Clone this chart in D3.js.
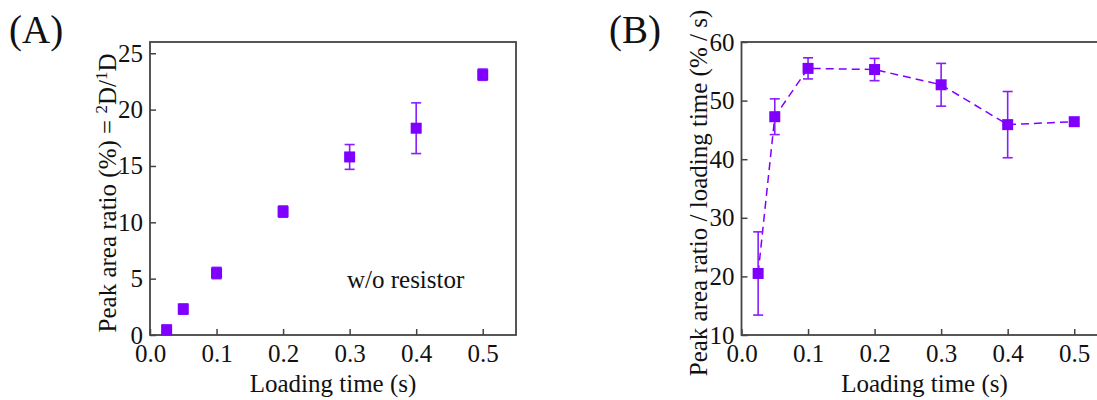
<!DOCTYPE html>
<html>
<head>
<meta charset="utf-8">
<script src="https://cdn.jsdelivr.net/npm/d3@7"></script>
<style>
  body { margin: 0; background: #fff; }
  text { font-family: "Liberation Serif", "Times New Roman", serif; fill: #111; }
</style>
</head>
<body>
<div id="chart"></div>
<script>
// loading time (s), shared by both panels
const loadingTime = [0.025, 0.05, 0.1, 0.2, 0.3, 0.4, 0.5];

// panel A: peak area ratio (%)
const ratioA = [0.44, 2.3, 5.5, 10.95, 15.8, 18.35, 23.1];
const ratioAErr = [0.45, 0.45, 0.5, 0.5, 1.1, 2.25, 0.5];

// panel B: peak area ratio / loading time (% / s)
const ratioB = [20.5, 47.25, 55.5, 55.3, 52.7, 45.9, 46.4];
const ratioBErr = [7.1, 3.05, 1.8, 1.9, 3.65, 5.65, 0.4];

const xTicks = [0, 0.1, 0.2, 0.3, 0.4, 0.5];
const yTicksA = [0, 5, 10, 15, 20, 25];
const yTicksB = [10, 20, 30, 40, 50, 60];

const width = 1097, height = 400;
const purple = "#8000ff";
const fontSize = 25;

const svg = d3.select("#chart").append("svg")
    .attr("width", width)
    .attr("height", height);

function drawPanel(o) {
    const g = svg.append("g");
    const x = d3.scaleLinear().domain([0, 0.55]).range([o.left, o.left + 366]);
    const y = d3.scaleLinear().domain(o.yDomain).range([335, 42]);

    // frame
    g.append("rect")
        .attr("x", x(0)).attr("y", y(o.yDomain[1]))
        .attr("width", x(0.55) - x(0)).attr("height", y(o.yDomain[0]) - y(o.yDomain[1]))
        .attr("fill", "none").attr("stroke", "#444").attr("stroke-width", 1.8);

    const xAxis = g.append("g")
        .attr("transform", `translate(0,${y(o.yDomain[0])})`)
        .call(d3.axisBottom(x).tickValues(xTicks).tickFormat(d3.format(".1f"))
            .tickSize(-6).tickSizeOuter(0).tickPadding(9));
    const yAxis = g.append("g")
        .attr("transform", `translate(${x(0)},0)`)
        .call(d3.axisLeft(y).tickValues(o.yTicks).tickSize(-6).tickSizeOuter(0).tickPadding(7));
    [xAxis, yAxis].forEach(a => {
        a.attr("font-family", null).attr("font-size", null);
        a.select(".domain").remove();
        a.selectAll(".tick line").attr("stroke", "#444").attr("stroke-width", 1.5);
        a.selectAll(".tick text").attr("font-size", fontSize).attr("fill", "#111");
    });

    const pts = loadingTime.map((t, i) => ({ t, v: o.values[i], e: o.errors[i] }));

    if (o.dashed) {
        g.append("path")
            .datum(pts)
            .attr("fill", "none")
            .attr("stroke", purple)
            .attr("stroke-width", 1.5)
            .attr("stroke-dasharray", "8,5")
            .attr("d", d3.line().x(d => x(d.t)).y(d => y(d.v)));
    }

    // error bars
    const eb = g.append("g").attr("stroke", "#8a1cff").attr("stroke-width", 1.6);
    pts.forEach(d => {
        eb.append("line").attr("x1", x(d.t)).attr("x2", x(d.t))
            .attr("y1", y(d.v - d.e)).attr("y2", y(d.v + d.e));
        [d.v - d.e, d.v + d.e].forEach(c => {
            eb.append("line").attr("x1", x(d.t) - 5).attr("x2", x(d.t) + 5)
                .attr("y1", y(c)).attr("y2", y(c));
        });
    });

    // square markers
    g.selectAll("rect.pt")
        .data(pts)
        .join("rect")
        .attr("class", "pt")
        .attr("x", d => x(d.t) - 5.5)
        .attr("y", d => y(d.v) - 5.5)
        .attr("width", 11).attr("height", 11)
        .attr("fill", purple);

    // x label
    g.append("text")
        .attr("x", x(0.275)).attr("y", 392)
        .attr("text-anchor", "middle").attr("font-size", fontSize)
        .text("Loading time (s)");

    // y label
    const yl = g.append("text")
        .attr("transform", `translate(${o.yLabelX},${o.yLabelY}) rotate(-90)`)
        .attr("text-anchor", "middle").attr("font-size", fontSize);
    o.yLabel(yl);

    // panel letter
    g.append("text")
        .attr("x", o.letterX).attr("y", 43)
        .attr("font-size", 39)
        .text(o.letter);

    return { g, x, y };
}

const panelA = drawPanel({
    left: 150, yDomain: [0, 26], yTicks: yTicksA,
    values: ratioA, errors: ratioAErr, dashed: false,
    yLabelX: 116, yLabelY: 193, letterX: 9, letter: "(A)",
    yLabel: t => {
        t.append("tspan").text("Peak area ratio (%) = ");
        t.append("tspan").attr("baseline-shift", "super").attr("font-size", 17).text("2");
        t.append("tspan").text("D/");
        t.append("tspan").attr("baseline-shift", "super").attr("font-size", 17).text("1");
        t.append("tspan").text("D");
    }
});

panelA.g.append("text")
    .attr("x", panelA.x(0.296)).attr("y", 288)
    .attr("font-size", fontSize)
    .text("w/o resistor");

drawPanel({
    left: 741.5, yDomain: [10, 60], yTicks: yTicksB,
    values: ratioB, errors: ratioBErr, dashed: true,
    yLabelX: 707, yLabelY: 193, letterX: 609, letter: "(B)",
    yLabel: t => t.text("Peak area ratio / loading time (% / s)")
});
</script>
</body>
</html>
